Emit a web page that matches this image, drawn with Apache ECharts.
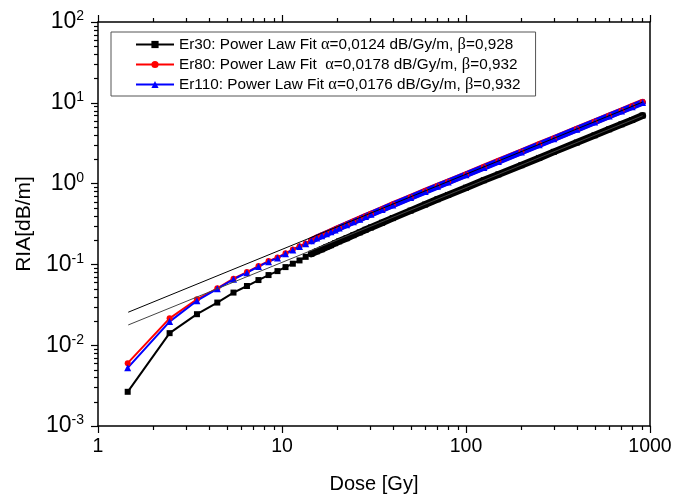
<!DOCTYPE html>
<html><head><meta charset="utf-8">
<script src="https://cdn.jsdelivr.net/npm/echarts@6/dist/echarts.min.js"></script>
<style>html,body{margin:0;padding:0;background:#fff}#c{width:690px;height:499px}</style>
</head><body><div id="c"></div>
<script>
// ---- data ----
const doses = [1.45,2.45,3.45,4.45,5.45,6.45,7.45,8.45,9.45,10.45,11.45,12.45,13.45,14.45,15.45,16.45,17.45,18.45,19.45,20.45,
  22.45,24.45,26.45,28.45,30.45,35,40,50,60,70,80,100,125,150,200,250,300,400,500,600,700,800,911.45];
const er30 = [0.00265,0.0141,0.0242,0.0337,0.0448,0.0540,0.0640,0.0738,0.0826,0.0926,0.102,0.112,0.124,0.1355,0.145,0.154,0.164,0.173,0.183,0.193,
  0.211,0.230,0.249,0.268,0.287,0.328,0.374,0.463,0.551,0.640,0.724,0.89,1.10,1.30,1.69,2.08,2.47,3.22,3.96,4.70,5.42,6.13,6.95];
const er80 = [0.0060,0.0215,0.0370,0.0506,0.0666,0.0804,0.0953,0.110,0.122,0.137,0.153,0.168,0.182,0.198,0.214,0.228,0.242,0.256,0.270,0.285,
  0.312,0.340,0.367,0.395,0.422,0.483,0.550,0.679,0.808,0.933,1.057,1.30,1.60,1.90,2.48,3.06,3.62,4.74,5.83,6.92,7.98,9.04,10.2];
const er110 = [0.00525,0.0196,0.0355,0.0498,0.0655,0.079,0.094,0.108,0.120,0.135,0.151,0.166,0.180,0.196,0.212,0.226,0.240,0.253,0.267,0.282,
  0.309,0.336,0.363,0.391,0.418,0.478,0.545,0.672,0.80,0.924,1.046,1.287,1.585,1.88,2.46,3.02,3.58,4.69,5.77,6.85,7.90,8.95,10.1];
const fitDose = [1.46, 911.45];
const fit30 = [0.0178, 6.92];
const fit80 = [0.0256, 10.2];
const names = ['Er30: Power Law Fit α=0,0124 dB/Gy/m, β=0,928',
               'Er80: Power Law Fit  α=0,0178 dB/Gy/m, β=0,932',
               'Er110: Power Law Fit α=0,0176 dB/Gy/m, β=0,932'];
const xTickLabels = {1:'1',10:'10',100:'100',1000:'1000'};

// ---- chart ----
const FONT = '"Liberation Sans", Arial, sans-serif';
const SERIF = '"Liberation Serif", "DejaVu Serif", serif';
const pairs = (xs, ys) => xs.map((d, i) => [d, ys[i]]);
const BAND_FROM = 13;
const chart = echarts.init(document.getElementById('c'), null, {renderer: 'canvas'});

function dataSeries(name, ys, color, symbol, size) {
  return {
    name: name, type: 'line', data: pairs(doses, ys), symbol: symbol, symbolSize: size,
    showAllSymbol: true, itemStyle: {color: color}, lineStyle: {color: color, width: 2}, z: 3
  };
}
function bandSeries(ys, color, w) {
  return {
    type: 'line', data: pairs(doses, ys).slice(BAND_FROM), showSymbol: false, silent: true,
    lineStyle: {color: color, width: w, cap: 'round'}, z: 3
  };
}
const axisCommon = {
  type: 'log', logBase: 10, splitLine: {show: false},
  axisLine: {show: true, onZero: false, lineStyle: {color: '#000', width: 1.5}},
  axisTick: {show: true, inside: false, length: 7, lineStyle: {color: '#000', width: 1.2}}
};
chart.setOption({
  animation: false,
  backgroundColor: '#fff',
  textStyle: {fontFamily: FONT},
  grid: {left: 98, right: 40, top: 22, bottom: 72, containLabel: false},
  legend: {
    data: names, orient: 'vertical', left: 111, top: 32, align: 'left',
    itemWidth: 38, itemHeight: 9, itemGap: 3,
    padding: [4, 15, 3, 24], borderColor: '#555', borderWidth: 1, backgroundColor: '#fff',
    formatter: n => n.replace(/α/g, '{g|α}').replace(/β/g, '{g|β}'),
    textStyle: {fontFamily: FONT, fontSize: 15.3, color: '#000',
      rich: {g: {fontFamily: SERIF, fontSize: 16.5, color: '#000'}}}
  },
  xAxis: [
    Object.assign({}, axisCommon, {
      min: 1, max: 1000, position: 'bottom',
      axisLabel: {fontSize: 19.5, color: '#000', margin: 11, fontFamily: FONT,
        formatter: v => xTickLabels[Math.round(v)] || ''},
      name: 'Dose [Gy]', nameLocation: 'middle', nameGap: 48,
      nameTextStyle: {fontSize: 20, color: '#000', fontFamily: FONT}
    }),
    Object.assign({}, axisCommon, {
      min: 1, max: 1000, position: 'top', axisLabel: {show: false}
    })
  ],
  yAxis: [
    Object.assign({}, axisCommon, {
      min: 0.001, max: 100, position: 'left',
      axisLabel: {color: '#000', margin: 14,
        formatter: v => '{b|10}{s|' + Math.round(Math.log10(v)) + '}',
        rich: {b: {fontSize: 23, fontFamily: FONT, color: '#000'},
               s: {fontSize: 14, fontFamily: FONT, color: '#000', padding: [0, 0, 11, 0]}}},
      name: 'RIA[dB/m]', nameLocation: 'middle', nameGap: 62,
      nameTextStyle: {fontSize: 21, color: '#000', fontFamily: FONT}
    }),
    Object.assign({}, axisCommon, {
      min: 0.001, max: 100, position: 'right', axisLabel: {show: false}, axisTick: {show: false}
    })
  ],
  series: [
    bandSeries(er30, '#000', 7),
    dataSeries(names[0], er30, '#000', 'rect', 6),
    bandSeries(er80, '#ff0000', 6.5),
    dataSeries(names[1], er80, '#ff0000', 'circle', 6),
    bandSeries(er110, '#0000ff', 6.5),
    dataSeries(names[2], er110, '#0000ff', 'triangle', 7),
    {type: 'line', data: pairs(fitDose, fit80), showSymbol: false, silent: true,
     lineStyle: {color: '#000', width: 1}, z: 4},
    {type: 'line', data: pairs(fitDose, fit30), showSymbol: false, silent: true,
     lineStyle: {color: '#444', width: 1}, z: 4}
  ]
});

// minor ticks through the axis scales
const px = v => chart.convertToPixel({xAxisIndex: 0}, v);
const py = v => chart.convertToPixel({yAxisIndex: 0}, v);
const xL = px(1), yB = py(0.001), yT = py(100);
const g = [];
const tick = (x1, y1, x2, y2) => g.push({type: 'line', shape: {x1, y1, x2, y2},
  style: {stroke: '#000', lineWidth: 1.2}, silent: true, z: 10});
[1, 10, 100].forEach(b => { for (let k = 2; k <= 9; k++) {
  const x = Math.round(px(k * b)) + 0.5;
  tick(x, yB, x, yB + 4); tick(x, yT, x, yT - 4);
}});
[0.001, 0.01, 0.1, 1, 10].forEach(b => { for (let k = 2; k <= 9; k++) {
  const y = Math.round(py(k * b)) + 0.5;
  tick(xL, y, xL - 4, y);
}});
chart.setOption({graphic: g});
</script>
</body></html>
